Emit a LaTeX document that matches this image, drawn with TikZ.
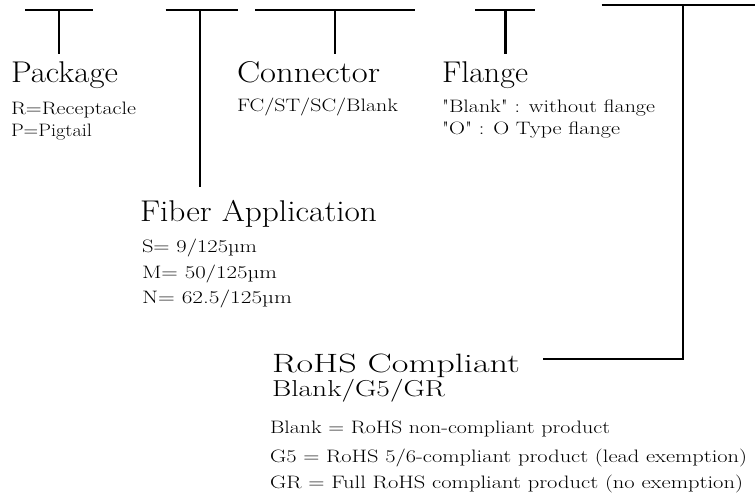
\documentclass[tikz,border=0pt]{standalone}
\usepackage{fontspec}
\usepackage{graphicx}
\newfontfamily\plainrm{Latin Modern Roman}
\newcommand{\fitw}[2]{\resizebox{#1}{\height}{#2}}
\tikzset{
  bar/.style={line width=2.8pt},
  stem/.style={line width=2.5pt},
  lbl/.style={anchor=base west, inner sep=0pt, outer sep=0pt},
  big/.style={lbl, font=\plainrm\fontsize{30}{36}\selectfont},
  rohsfont/.style={lbl, font=\plainrm\fontsize{26.5}{32}\selectfont},
  mid/.style={lbl, font=\plainrm\fontsize{23}{28}\selectfont},
  small/.style={lbl, font=\plainrm\fontsize{18}{22}\selectfont}
}
\begin{document}
\begin{tikzpicture}[x=1pt,y=-1pt]
\useasboundingbox (0,0) rectangle (755,497);
% text blocks
\node[big] (pkg) at (11,83) {\fitw{107pt}{Package}};
\node[small] (pkg1) at (11,115) {\fitw{125pt}{R=Receptacle}};
\node[small] (pkg2) at (11,137) {\fitw{81pt}{P=Pigtail}};

\node[big] (fib) at (140,222) {\fitw{237pt}{Fiber Application}};
\node[small] (fib1) at (142,252) {\fitw{115pt}{S= 9/125µm}};
\node[small] (fib2) at (142,278) {\fitw{135pt}{M= 50/125µm}};
\node[small] (fib3) at (142,303) {\fitw{150pt}{N= 62.5/125µm}};

\node[big] (con) at (237,83) {\fitw{143pt}{Connector}};
\node[small] (con1) at (237,112) {\fitw{161pt}{FC/ST/SC/Blank}};

\node[big] (fla) at (442,83) {\fitw{86pt}{Flange}};
\node[small] (fla1) at (442,113) {\fitw{213pt}{"Blank" : without flange}};
\node[small] (fla2) at (442,135) {\fitw{178pt}{"O" : O Type flange}};

\node[rohsfont] (rohs) at (272,372) {\fitw{248pt}{RoHS Compliant}};
\node[mid] (rohs0) at (272,396) {\fitw{173pt}{Blank/G5/GR}};
\node[small] (rohs1) at (270,433) {\fitw{340pt}{Blank = RoHS non-compliant product}};
\node[small] (rohs2) at (270,462) {\fitw{477pt}{G5 = RoHS 5/6-compliant product (lead exemption)}};
\node[small] (rohs3) at (270,488) {\fitw{473pt}{GR = Full RoHS compliant product (no exemption)}};

% T markers
\coordinate (b1l) at (25,10);  \coordinate (b1r) at (93,10);
\coordinate (s1t) at (59,10);  \coordinate (s1b) at (59,54.5);
\coordinate (b2l) at (165.5,10); \coordinate (b2r) at (237.5,10);
\coordinate (s2t) at (200,10); \coordinate (s2b) at (200,187);
\coordinate (b3l) at (255,10); \coordinate (b3r) at (415,10);
\coordinate (s3t) at (335,10); \coordinate (s3b) at (335,54.5);
\coordinate (b4l) at (475,10); \coordinate (b4r) at (535,10);
\coordinate (s4t) at (505.5,10); \coordinate (s4b) at (505.5,54.5);
\coordinate (b5l) at (601.5,5); \coordinate (b5r) at (755,5);
\coordinate (s5t) at (683,5); \coordinate (s5c) at (683,359);
\coordinate (s5e) at (543,359);

\draw[bar] (b1l) -- (b1r);
\draw[stem] (s1t) -- (s1b);
\draw[bar] (b2l) -- (b2r);
\draw[stem] (s2t) -- (s2b);
\draw[bar] (b3l) -- (b3r);
\draw[stem] (s3t) -- (s3b);
\draw[bar] (b4l) -- (b4r);
\draw[stem] (s4t) -- (s4b);
\draw[bar] (b5l) -- (b5r);
\draw[stem] (s5t) -- (s5c) -- (s5e);
\end{tikzpicture}
\end{document}
